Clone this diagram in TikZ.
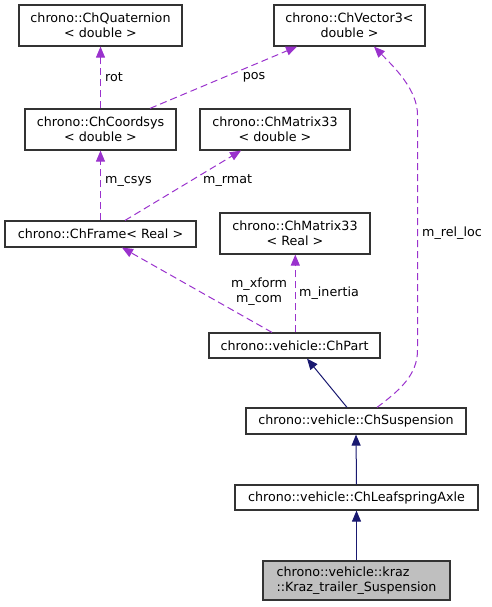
\documentclass[tikz,border=0pt]{standalone}
\usepackage{fontspec}
\setmainfont{DejaVu Sans}
\usetikzlibrary{arrows.meta}
\definecolor{edgepurple}{HTML}{9A32CD}
\definecolor{edgenavy}{HTML}{191970}
\definecolor{boxline}{HTML}{333333}
\tikzset{
  cls/.style={draw=boxline, line width=1.2pt, inner sep=0pt, align=center,
    font=\fontsize{12.7}{15}\selectfont},
  usage/.style={draw=edgepurple, line width=1pt, dash pattern=on 7pt off 4pt,
    -{Triangle[length=11pt,width=9pt,fill=edgepurple,sep=0pt]}},
  inherit/.style={draw=edgenavy, line width=1pt,
    -{Triangle[length=11pt,width=9pt,fill=edgenavy]}},
  lbl/.style={inner sep=0pt, font=\fontsize{12.7}{15}\selectfont},
}
\begin{document}
\begin{tikzpicture}[x=1pt,y=-1pt]
\useasboundingbox (0,0) rectangle (491,607);
% nodes
\node[cls, minimum width=163pt, minimum height=41pt] (quat) at (100.5,25.5) {chrono::ChQuaternion\\< double >};
\node[cls, minimum width=151pt, minimum height=41pt] (vec) at (349.5,25.5) {chrono::ChVector3<\\double >};
\node[cls, minimum width=151pt, minimum height=41pt] (coord) at (100.5,129.5) {chrono::ChCoordsys\\< double >};
\node[cls, minimum width=150pt, minimum height=41pt] (matd) at (275,129.5) {chrono::ChMatrix33\\< double >};
\node[cls, minimum width=191pt, minimum height=26pt] (frame) at (100.5,234) {chrono::ChFrame< Real >};
\node[cls, minimum width=150pt, minimum height=41pt] (matr) at (295,233.5) {chrono::ChMatrix33\\< Real >};
\node[cls, minimum width=171pt, minimum height=25pt] (part) at (294.5,345.5) {chrono::vehicle::ChPart};
\node[cls, minimum width=220pt, minimum height=26pt] (susp) at (356,421) {chrono::vehicle::ChSuspension};
\node[cls, minimum width=243pt, minimum height=25pt] (leaf) at (356.5,497.5) {chrono::vehicle::ChLeafspringAxle};
\node[cls, fill=black!25, align=left, minimum width=187pt, minimum height=39pt] (kraz) at (356.5,580.5) {chrono::vehicle::kraz\\::Kraz\_trailer\_Suspension};
% usage edges
\draw[usage] (coord.north) -- (quat.south);
\draw[usage] ([xshift=49.5pt]coord.north) -- ([xshift=-52.5pt]vec.south);
\draw[usage] ([xshift=21pt]susp.north) .. controls (400,390) and (417.5,375) .. (417.5,350) -- (417.5,115) .. controls (417.5,90) and (395,68) .. ([xshift=24.5pt]vec.south);
\draw[usage] (frame.north) -- (coord.south);
\draw[usage] ([xshift=24.5pt]frame.north) -- ([xshift=-34pt]matd.south);
\draw[usage] ([xshift=-22.5pt]part.north) -- ([xshift=21.5pt]frame.south);
\draw[usage, line width=1.2pt] ([xshift=0.8pt]part.north) -- ([xshift=0.3pt]matr.south);
% labels
\node[lbl, anchor=west] (lrot) at (105,77) {rot};
\node[lbl] (lpos) at (254,77) {pos};
\node[lbl, anchor=west] (lrel) at (422,233) {m\_rel\_loc};
\node[lbl, anchor=west] (lcsys) at (105,181) {m\_csys};
\node[lbl, anchor=west] (lrmat) at (203,181) {m\_rmat};
\node[lbl, align=center] (lxf) at (259,292) {m\_xform\\m\_com};
\node[lbl, anchor=west] (lin) at (299,293) {m\_inertia};
% inheritance edges
\draw[inherit] ([xshift=-9pt]susp.north) -- ([xshift=12.5pt]part.south);
\draw[inherit] (leaf.north) -- (susp.south);
\draw[inherit] (kraz.north) -- (leaf.south);
\end{tikzpicture}
\end{document}
